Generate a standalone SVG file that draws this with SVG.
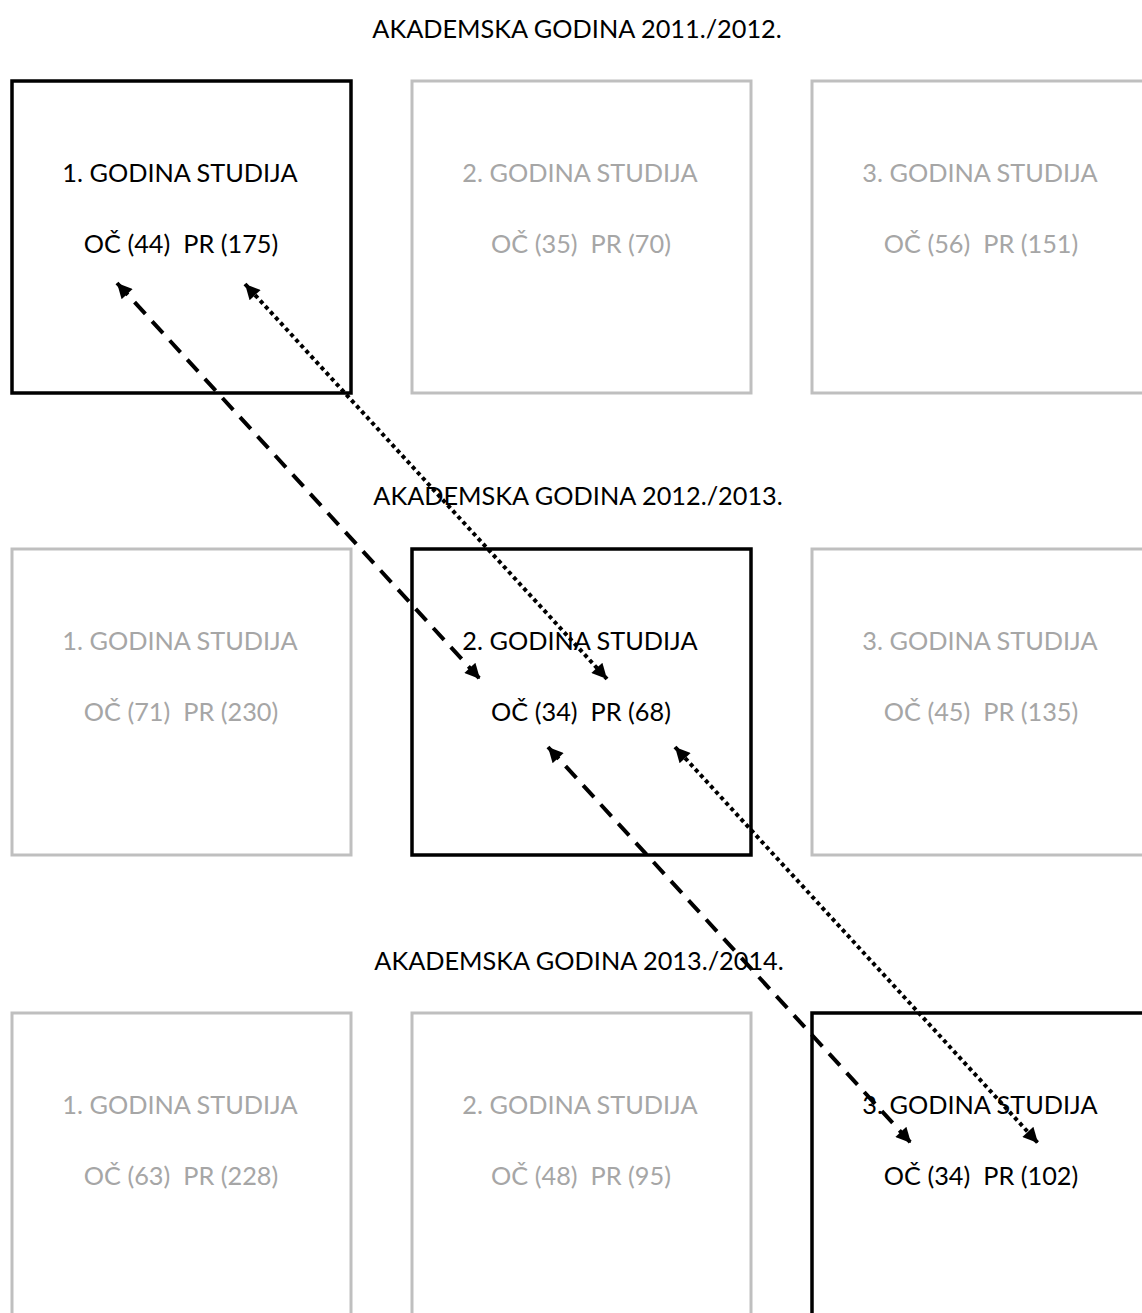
<svg xmlns="http://www.w3.org/2000/svg" width="1142" height="1313" viewBox="0 0 1142 1313">
<style>
  text { font-family: Lato, "Liberation Sans", Arial, sans-serif; font-size: 25.3px; text-anchor: middle; white-space: pre; }
  .title { fill: #000; }
  .on rect { fill: #fff; stroke: #000; stroke-width: 3.5; }
  .on text { fill: #000; }
  .off rect { fill: #fff; stroke: #BFBFBF; stroke-width: 3; }
  .off text { fill: #A6A6A6; }
  .conn line { stroke: #000; stroke-width: 4; fill: none; }
  .dash { stroke-dasharray: 16 10; }
  .dot { stroke-dasharray: 4 3.5; }
</style>
<defs>
  <marker id="ah" viewBox="0 0 10 10" refX="10" refY="5" markerWidth="17" markerHeight="15" markerUnits="userSpaceOnUse" orient="auto-start-reverse">
    <path d="M0,0 L10,5 L0,10 Z" fill="#000"/>
  </marker>
</defs>
<rect width="1142" height="1313" fill="#fff"/>

<text class="title" x="577" y="38">AKADEMSKA GODINA 2011./2012.</text>
<text class="title" x="578" y="505">AKADEMSKA GODINA 2012./2013.</text>
<text class="title" x="579" y="970">AKADEMSKA GODINA 2013./2014.</text>

<g id="r1c1" class="on">
  <rect x="12" y="81" width="339" height="312"/>
  <text x="180" y="182">1. GODINA STUDIJA</text>
  <text x="181" y="253">OČ (44)  PR (175)</text>
</g>
<g id="r1c2" class="off">
  <rect x="412" y="81" width="339" height="312"/>
  <text x="580" y="182">2. GODINA STUDIJA</text>
  <text x="581" y="253">OČ (35)  PR (70)</text>
</g>
<g id="r1c3" class="off">
  <rect x="812" y="81" width="339" height="312"/>
  <text x="980" y="182">3. GODINA STUDIJA</text>
  <text x="981" y="253">OČ (56)  PR (151)</text>
</g>

<g id="r2c1" class="off">
  <rect x="12" y="549" width="339" height="306"/>
  <text x="180" y="650">1. GODINA STUDIJA</text>
  <text x="181" y="721">OČ (71)  PR (230)</text>
</g>
<g id="r2c2" class="on">
  <rect x="412" y="549" width="339" height="306"/>
  <text x="580" y="650">2. GODINA STUDIJA</text>
  <text x="581" y="721">OČ (34)  PR (68)</text>
</g>
<g id="r2c3" class="off">
  <rect x="812" y="549" width="339" height="306"/>
  <text x="980" y="650">3. GODINA STUDIJA</text>
  <text x="981" y="721">OČ (45)  PR (135)</text>
</g>

<g id="r3c1" class="off">
  <rect x="12" y="1013" width="339" height="320"/>
  <text x="180" y="1114">1. GODINA STUDIJA</text>
  <text x="181" y="1185">OČ (63)  PR (228)</text>
</g>
<g id="r3c2" class="off">
  <rect x="412" y="1013" width="339" height="320"/>
  <text x="580" y="1114">2. GODINA STUDIJA</text>
  <text x="581" y="1185">OČ (48)  PR (95)</text>
</g>
<g id="r3c3" class="on">
  <rect x="812" y="1013" width="339" height="320"/>
  <text x="980" y="1114">3. GODINA STUDIJA</text>
  <text x="981" y="1185">OČ (34)  PR (102)</text>
</g>

<g id="connectors" class="conn">
  <line class="dash" x1="117" y1="283" x2="480" y2="679" marker-start="url(#ah)" marker-end="url(#ah)"/>
  <line class="dot" x1="245" y1="284" x2="607" y2="679" marker-start="url(#ah)" marker-end="url(#ah)"/>
  <line class="dash" x1="548" y1="747" x2="911" y2="1143" marker-start="url(#ah)" marker-end="url(#ah)"/>
  <line class="dot" x1="675" y1="747" x2="1038" y2="1143" marker-start="url(#ah)" marker-end="url(#ah)"/>
</g>
</svg>
